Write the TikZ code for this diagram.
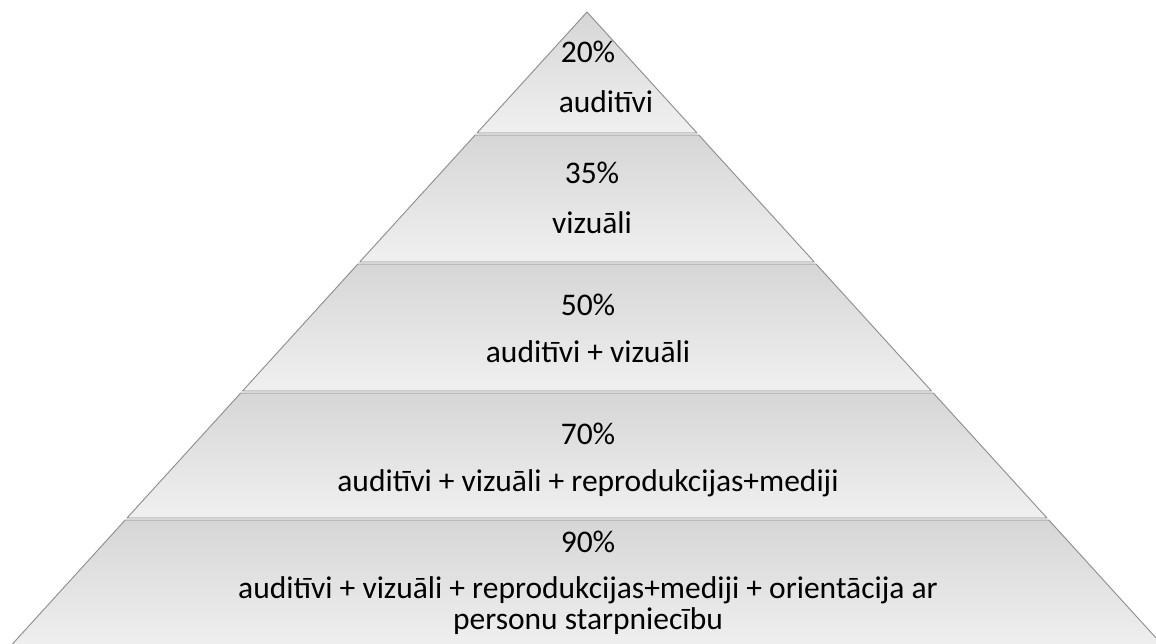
\documentclass[tikz,border=0pt]{standalone}
\usepackage{fontspec}
\setmainfont{Carlito}
\begin{document}
\begin{tikzpicture}[x=1pt,y=-1pt,
  tier/.style={draw={rgb,255:red,140;green,140;blue,140},line width=0.9pt,line join=round,
    top color={rgb,255:red,214;green,214;blue,214},bottom color={rgb,255:red,240;green,240;blue,240}},
  lbl/.style={anchor=base,inner sep=0pt,font=\fontsize{31.5}{38}\selectfont,text=black}]
\useasboundingbox (0,0) rectangle (1156,643);
\clip (0,0) rectangle (1156,643);
% layers
\path[tier] (587,12) -- (697,133) -- (477,133) -- cycle;
\path[tier] (475.2,135) -- (698.8,135) -- (814.3,262) -- (359.7,262) -- cycle;
\path[tier] (357.9,264) -- (816.1,264) -- (931.5,391) -- (242.5,391) -- cycle;
\path[tier] (240.7,393) -- (933.3,393) -- (1047,518) -- (127,518) -- cycle;
\path[tier] (125.2,520) -- (1048.8,520) -- (1167,650) -- (7,650) -- cycle;
% labels
\node[lbl] (p1) at (588,62) {20\%};
\node[lbl] (t1) at (606,112) {auditīvi};
\node[lbl] (p2) at (592,183) {35\%};
\node[lbl] (t2) at (592,233) {vizuāli};
\node[lbl] (p3) at (588,315) {50\%};
\node[lbl] (t3) at (588,362) {auditīvi + vizuāli};
\node[lbl] (p4) at (588,444) {70\%};
\node[lbl] (t4) at (588,491) {auditīvi + vizuāli + reprodukcijas+mediji};
\node[lbl] (p5) at (588,552) {90\%};
\node[lbl] (t5) at (588,598) {auditīvi + vizuāli + reprodukcijas+mediji + orientācija ar};
\node[lbl] (t6) at (588,629) {personu starpniecību};
\end{tikzpicture}
\end{document}
